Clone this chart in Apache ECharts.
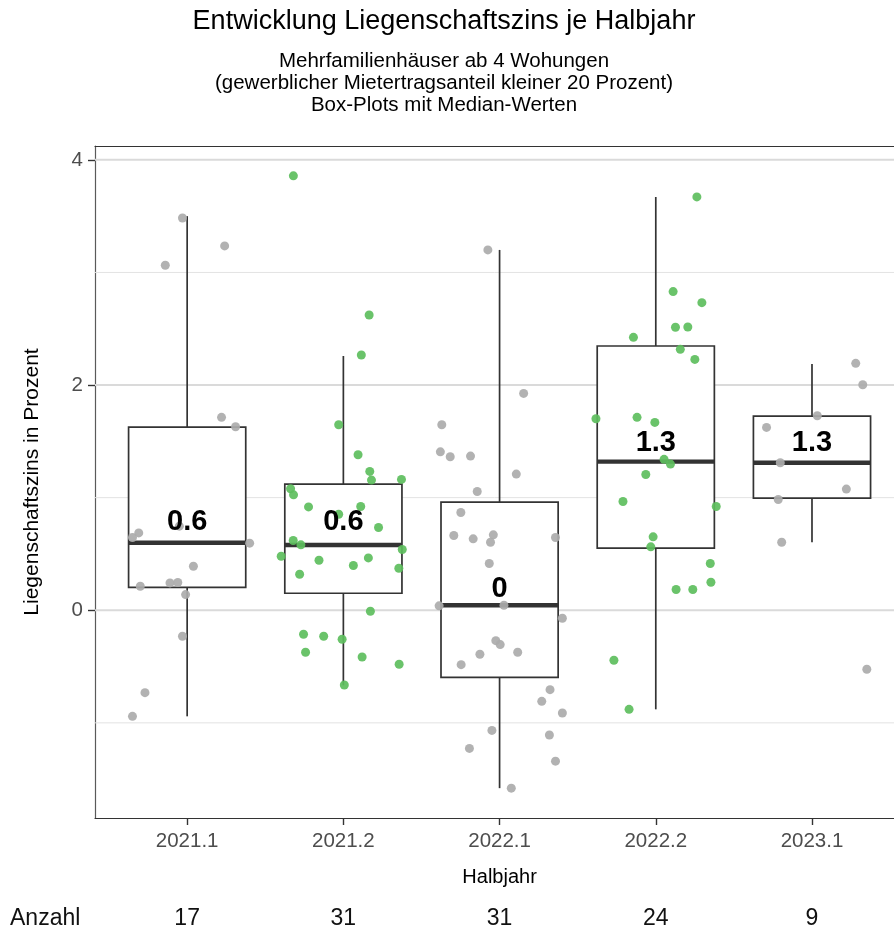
<!DOCTYPE html>
<html>
<head>
<meta charset="utf-8">
<script src="https://cdn.jsdelivr.net/npm/echarts@6/dist/echarts.min.js"></script>
<style>
  html, body { margin: 0; padding: 0; background: #ffffff; }
  #chart { width: 894px; height: 932px; }
</style>
</head>
<body>
<div id="chart"></div>
<script>
// Half-year categories and number of transactions per half-year
const categories = ['2021.1', '2021.2', '2022.1', '2022.2', '2023.1'];
const counts = [17, 31, 31, 24, 9];

// Box-plot statistics (percent)
const whiskerLow  = [-0.942, -0.667, -1.58, -0.88, 0.604];
const quartile1   = [0.204, 0.151, -0.596, 0.551, 0.996];
const median      = [0.60, 0.58, 0.044, 1.32, 1.31];
const quartile3   = [1.627, 1.12, 0.96, 2.347, 1.724];
const whiskerHigh = [3.50, 2.258, 3.20, 3.67, 2.187];

// Individual observations: [horizontal jitter, Liegenschaftszins]
const obs2021_1 = [
  [-0.03, 3.484], [0.24, 3.236], [-0.14, 3.064], [0.22, 1.713], [0.31, 1.63],
  [-0.05, 0.747], [-0.31, 0.687], [-0.35, 0.646], [0.40, 0.596], [0.04, 0.391],
  [-0.30, 0.213], [-0.11, 0.243], [-0.06, 0.246], [-0.01, 0.139], [-0.03, -0.231],
  [-0.27, -0.732], [-0.35, -0.942]
];
const obs2021_2 = [
  [-0.32, 3.858], [0.165, 2.622], [0.115, 2.267], [-0.03, 1.647], [0.094, 1.381],
  [0.169, 1.233], [0.18, 1.156], [0.225, 0.735], [-0.338, 1.079], [-0.319, 1.025],
  [-0.223, 0.918], [-0.03, 0.853], [0.111, 0.921], [-0.321, 0.619], [-0.272, 0.581],
  [-0.398, 0.48], [-0.156, 0.444], [0.064, 0.397], [0.16, 0.465], [-0.28, 0.32],
  [0.173, -0.009], [-0.255, -0.213], [-0.126, -0.231], [-0.008, -0.258], [-0.242, -0.373],
  [0.12, -0.415], [0.006, -0.664], [0.372, 1.162], [0.377, 0.54], [0.355, 0.373],
  [0.357, -0.48]
];
const obs2022_1 = [
  [-0.075, 3.2], [0.154, 1.926], [-0.37, 1.647], [-0.379, 1.407], [-0.316, 1.363],
  [-0.186, 1.369], [0.107, 1.209], [-0.143, 1.055], [-0.248, 0.868], [-0.293, 0.664],
  [-0.169, 0.634], [-0.04, 0.67], [-0.058, 0.604], [0.358, 0.646], [-0.066, 0.415],
  [-0.387, 0.039], [0.028, 0.044], [0.402, -0.071], [-0.024, -0.27], [0.004, -0.305],
  [-0.126, -0.391], [0.116, -0.373], [-0.246, -0.483], [0.323, -0.705], [0.27, -0.809],
  [0.402, -0.913], [-0.049, -1.067], [0.319, -1.108], [-0.193, -1.227], [0.358, -1.34],
  [0.075, -1.58]
];
const obs2022_2 = [
  [0.263, 3.671], [0.111, 2.83], [0.295, 2.732], [0.126, 2.513], [0.205, 2.516],
  [-0.143, 2.424], [0.157, 2.317], [0.25, 2.228], [-0.383, 1.701], [-0.12, 1.713],
  [-0.006, 1.668], [0.053, 1.34], [0.094, 1.298], [-0.064, 1.206], [-0.21, 0.966],
  [0.387, 0.921], [-0.017, 0.652], [-0.032, 0.563], [0.349, 0.415], [0.353, 0.249],
  [0.13, 0.184], [0.237, 0.184], [-0.268, -0.444], [-0.171, -0.88]
];
const obs2023_1 = [
  [0.28, 2.193], [0.325, 2.003], [0.034, 1.727], [-0.291, 1.624], [-0.203, 1.31],
  [0.22, 1.076], [-0.216, 0.984], [-0.194, 0.604], [0.351, -0.524]
];
const observations = [obs2021_1, obs2021_2, obs2022_1, obs2022_2, obs2023_1];
const pointColourKey = ['grey', 'green', 'grey', 'green', 'grey'];

// Axis ticks and grid lines
const yLabelTicks = [0, 2, 4];
const yMajorGrid = [0, 2, 4];
const yMinorGrid = [-1, 1, 3];

// Titles
const titleText = 'Entwicklung Liegenschaftszins je Halbjahr';
const subtitleLines = [
  'Mehrfamilienhäuser ab 4 Wohungen',
  '(gewerblicher Mietertragsanteil kleiner 20 Prozent)',
  'Box-Plots mit Median-Werten'
];

const FONT = '"Liberation Sans", Arial, sans-serif';
const POINT_COLOURS = { grey: '#ABABAB', green: '#5DBE5D' };
const LINE_DARK = '#333333';
const X_MIN = -0.59, X_MAX = 4.525;
const Y_MIN = -1.845, Y_MAX = 4.123;
const BOX_WIDTH = 0.75;

const chart = echarts.init(document.getElementById('chart'), null, { renderer: 'canvas' });

const gridSeries = {
  type: 'custom',
  silent: true,
  z: 1,
  data: yMajorGrid.map(v => [v, 1]).concat(yMinorGrid.map(v => [v, 0])),
  encode: { y: 0 },
  renderItem: function (params, api) {
    const v = api.value(0);
    const major = api.value(1) === 1;
    const a = api.coord([X_MIN, v]);
    const b = api.coord([X_MAX, v]);
    return {
      type: 'line',
      shape: { x1: a[0], y1: a[1], x2: b[0], y2: b[1] },
      style: { stroke: major ? '#DADADA' : '#E3E3E3', lineWidth: major ? 2 : 1 }
    };
  }
};

const boxSeries = {
  type: 'custom',
  silent: true,
  z: 2,
  data: categories.map((c, i) => [i, whiskerLow[i], quartile1[i], median[i], quartile3[i], whiskerHigh[i]]),
  encode: { x: 0, y: [1, 2, 3, 4, 5] },
  renderItem: function (params, api) {
    const i = api.value(0);
    const lo = api.coord([i, api.value(1)]);
    const q1 = api.coord([i, api.value(2)]);
    const md = api.coord([i, api.value(3)]);
    const q3 = api.coord([i, api.value(4)]);
    const hi = api.coord([i, api.value(5)]);
    const half = api.size([BOX_WIDTH, 0])[0] / 2;
    const x = lo[0];
    const stroke = { stroke: LINE_DARK, lineWidth: 1.7 };
    return {
      type: 'group',
      children: [
        { type: 'line', shape: { x1: x, y1: hi[1], x2: x, y2: q3[1] }, style: stroke },
        { type: 'line', shape: { x1: x, y1: q1[1], x2: x, y2: lo[1] }, style: stroke },
        { type: 'rect', shape: { x: x - half, y: q3[1], width: 2 * half, height: q1[1] - q3[1] },
          style: { fill: '#ffffff', stroke: LINE_DARK, lineWidth: 1.7 } },
        { type: 'line', shape: { x1: x - half, y1: md[1], x2: x + half, y2: md[1] },
          style: { stroke: LINE_DARK, lineWidth: 4.4 } }
      ]
    };
  }
};

const pointSeries = observations.map((obs, i) => ({
  type: 'scatter',
  silent: true,
  z: 3,
  symbol: 'circle',
  symbolSize: 9,
  itemStyle: { color: POINT_COLOURS[pointColourKey[i]], opacity: 0.92 },
  data: obs.map(p => [i + p[0], p[1]])
}));

// Median values rounded to one decimal, printed above each median line
const medianLabel = median.map(v => Math.round(v * 10) / 10);
const labelSeries = {
  type: 'custom',
  silent: true,
  z: 4,
  data: medianLabel.map((v, i) => [i, v]),
  encode: { x: 0, y: 1 },
  renderItem: function (params, api) {
    const p = api.coord([api.value(0), api.value(1)]);
    return {
      type: 'text',
      x: p[0],
      y: p[1] - 21,
      style: {
        text: String(api.value(1)),
        fill: '#000000',
        font: 'bold 29px ' + FONT,
        align: 'center',
        verticalAlign: 'middle'
      }
    };
  }
};

const option = {
  backgroundColor: '#ffffff',
  animation: false,
  grid: { left: 95, right: 0, top: 146, bottom: 114 },
  xAxis: [{
    type: 'value',
    min: X_MIN, max: X_MAX,
    axisLine: { show: true, onZero: false, lineStyle: { color: LINE_DARK, width: 1.2 } },
    axisTick: { show: true, length: 7, customValues: [0, 1, 2, 3, 4], lineStyle: { color: LINE_DARK, width: 1.4 } },
    axisLabel: {
      customValues: [0, 1, 2, 3, 4],
      formatter: v => categories[Math.round(v)],
      margin: 13,
      fontFamily: FONT, fontSize: 20.5, color: '#4D4D4D'
    },
    splitLine: { show: false }
  }, {
    // top frame line of the panel
    type: 'value',
    position: 'top',
    min: X_MIN, max: X_MAX,
    axisLine: { show: true, onZero: false, lineStyle: { color: LINE_DARK, width: 1.2 } },
    axisTick: { show: false },
    axisLabel: { show: false },
    splitLine: { show: false }
  }],
  yAxis: {
    type: 'value',
    min: Y_MIN, max: Y_MAX,
    name: 'Liegenschaftszins in Prozent',
    nameLocation: 'middle',
    nameRotate: 90,
    nameGap: 52,
    nameTextStyle: { fontFamily: FONT, fontSize: 21, color: '#000000' },
    axisLine: { show: true, onZero: false, lineStyle: { color: '#5A5A5A', width: 1.2 } },
    axisTick: { show: true, length: 7, customValues: yLabelTicks, lineStyle: { color: LINE_DARK, width: 1.4 } },
    axisLabel: {
      customValues: yLabelTicks,
      margin: 12,
      fontFamily: FONT, fontSize: 20.5, color: '#4D4D4D'
    },
    splitLine: { show: false }
  },
  series: [gridSeries, boxSeries].concat(pointSeries, [labelSeries])
};

chart.setOption(option);

// Title block, x-axis name and counts row
const titleX = 444;
const graphics = [{
  type: 'text', x: titleX, y: 22,
  style: { text: titleText, font: '27px ' + FONT, fill: '#000000', align: 'center', verticalAlign: 'middle' }
}].concat(subtitleLines.map((line, k) => ({
  type: 'text', x: titleX, y: 61 + 22 * k,
  style: { text: line, font: '20.5px ' + FONT, fill: '#000000', align: 'center', verticalAlign: 'middle' }
})));

graphics.push({
  type: 'text', x: chart.convertToPixel({ xAxisIndex: 0 }, 2), y: 877,
  style: { text: 'Halbjahr', font: '20px ' + FONT, fill: '#000000', align: 'center', verticalAlign: 'middle' }
});

const countY = 919;
graphics.push({
  type: 'text', x: 10, y: countY,
  style: { text: 'Anzahl', font: '23px ' + FONT, fill: '#111111', align: 'left', verticalAlign: 'middle' }
});
counts.forEach((n, i) => graphics.push({
  type: 'text', x: chart.convertToPixel({ xAxisIndex: 0 }, i), y: countY,
  style: { text: String(n), font: '23px ' + FONT, fill: '#111111', align: 'center', verticalAlign: 'middle' }
}));

chart.setOption({ graphic: graphics });
</script>
</body>
</html>
